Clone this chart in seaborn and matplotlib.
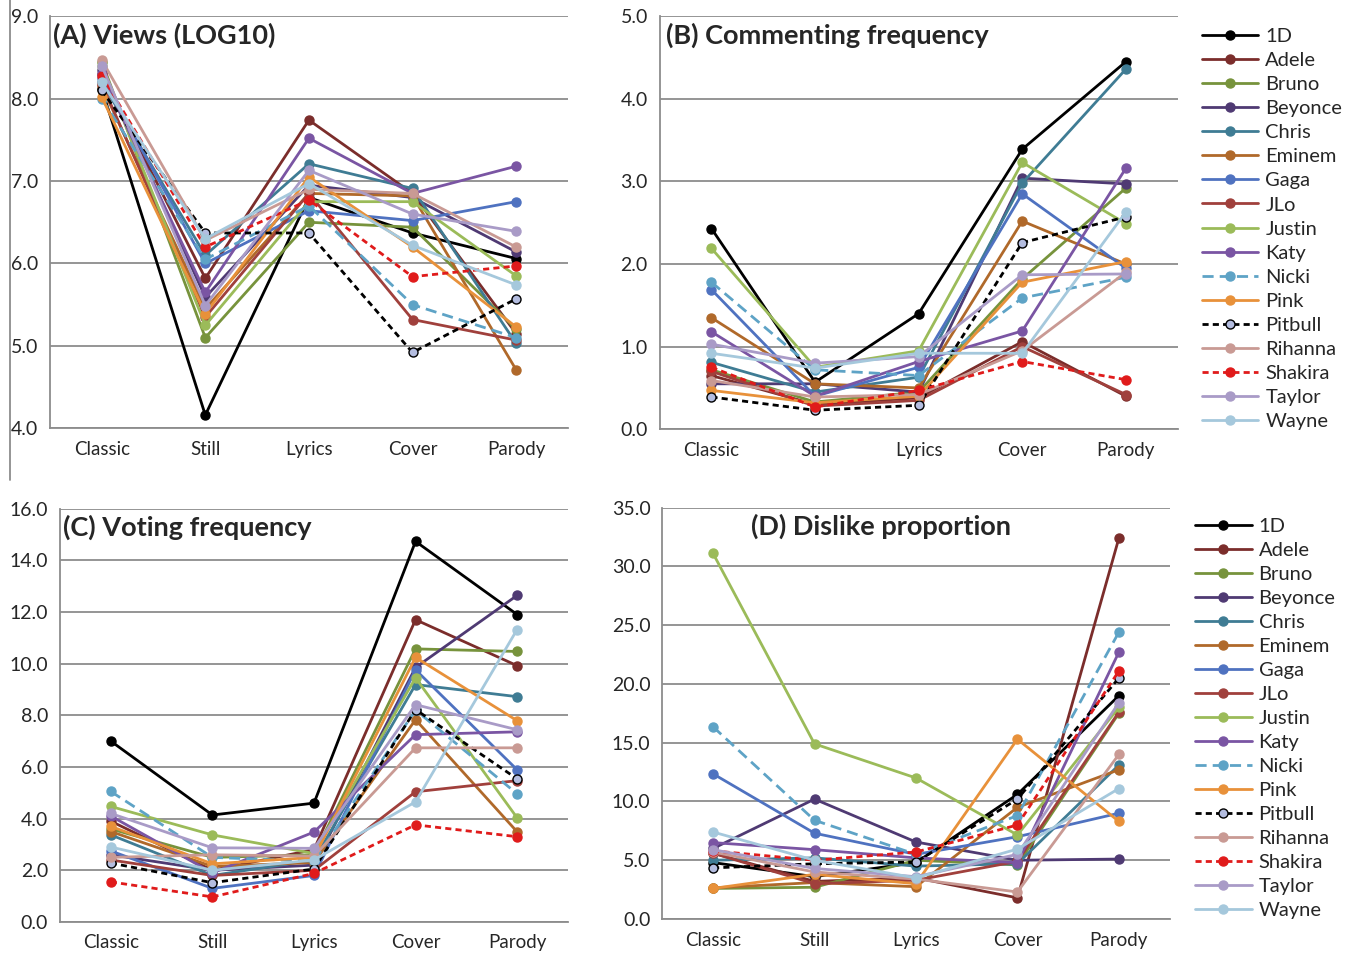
import numpy as np
import pandas as pd
import seaborn as sns
import matplotlib.pyplot as plt
from matplotlib.lines import Line2D

sns.set_style("white")
plt.rcParams['font.family'] = ['Lato', 'DejaVu Sans']

cats = ['Classic', 'Still', 'Lyrics', 'Cover', 'Parody']
artists = ['1D', 'Adele', 'Bruno', 'Beyonce', 'Chris', 'Eminem', 'Gaga', 'JLo',
           'Justin', 'Katy', 'Nicki', 'Pink', 'Pitbull', 'Rihanna', 'Shakira',
           'Taylor', 'Wayne']

# rows follow the artists list, columns follow cats
views = [
    [8.12, 4.16, 6.80, 6.37, 6.06],
    [8.30, 5.82, 7.74, 6.85, 5.15],
    [8.45, 5.10, 6.50, 6.44, 5.20],
    [8.35, 5.59, 6.95, 6.80, 6.14],
    [8.20, 6.10, 7.21, 6.91, 5.03],
    [8.15, 5.45, 6.85, 6.82, 4.71],
    [8.25, 6.00, 6.64, 6.52, 6.75],
    [8.18, 5.35, 6.85, 5.32, 5.07],
    [8.40, 5.25, 6.75, 6.75, 5.85],
    [8.30, 5.65, 7.52, 6.85, 7.18],
    [8.00, 6.05, 6.70, 5.50, 5.10],
    [8.02, 5.39, 7.05, 6.20, 5.23],
    [8.10, 6.37, 6.37, 4.92, 5.57],
    [8.47, 6.28, 6.90, 6.85, 6.20],
    [8.28, 6.20, 6.77, 5.84, 5.97],
    [8.40, 5.49, 7.13, 6.60, 6.39],
    [8.20, 6.30, 6.97, 6.22, 5.74],
]
comments = [
    [2.43, 0.57, 1.40, 3.39, 4.45],
    [0.65, 0.30, 0.38, 1.06, 0.40],
    [0.72, 0.33, 0.45, 1.82, 2.92],
    [0.55, 0.55, 0.45, 3.04, 2.97],
    [0.81, 0.45, 0.63, 2.98, 4.36],
    [1.35, 0.55, 0.50, 2.52, 2.00],
    [1.69, 0.40, 0.75, 2.85, 1.95],
    [0.70, 0.28, 0.35, 1.00, 0.42],
    [2.19, 0.75, 0.95, 3.23, 2.49],
    [1.18, 0.40, 0.82, 1.19, 3.16],
    [1.78, 0.72, 0.65, 1.59, 1.84],
    [0.47, 0.32, 0.40, 1.78, 2.03],
    [0.39, 0.23, 0.29, 2.26, 2.57],
    [0.59, 0.39, 0.42, 0.95, 1.90],
    [0.75, 0.27, 0.47, 0.82, 0.60],
    [1.03, 0.80, 0.88, 1.87, 1.88],
    [0.92, 0.74, 0.92, 0.92, 2.63],
]
votes = [
    [7.00, 4.14, 4.60, 14.73, 11.90],
    [3.90, 2.00, 2.80, 11.70, 9.92],
    [3.60, 2.50, 2.60, 10.57, 10.47],
    [2.60, 2.00, 2.20, 9.85, 12.64],
    [3.37, 1.80, 2.40, 9.19, 8.72],
    [3.50, 2.15, 2.30, 7.83, 3.49],
    [2.75, 1.30, 1.80, 9.76, 5.89],
    [2.40, 1.80, 2.00, 5.04, 5.47],
    [4.47, 3.37, 2.65, 9.45, 4.03],
    [4.10, 1.90, 3.48, 7.25, 7.36],
    [5.05, 2.50, 2.35, 8.20, 4.96],
    [3.70, 2.25, 2.50, 10.24, 7.79],
    [2.28, 1.52, 2.05, 8.22, 5.54],
    [2.50, 2.60, 2.55, 6.74, 6.74],
    [1.55, 0.97, 1.88, 3.76, 3.30],
    [4.20, 2.87, 2.85, 8.41, 7.44],
    [2.90, 2.00, 2.40, 4.65, 11.32],
]
dislikes = [
    [4.80, 3.60, 4.80, 10.60, 19.00],
    [5.60, 3.20, 3.50, 1.80, 32.40],
    [2.60, 2.70, 5.00, 4.60, 17.50],
    [6.00, 10.20, 6.55, 5.00, 5.10],
    [5.00, 5.20, 4.50, 4.70, 13.10],
    [2.65, 3.10, 2.75, 9.50, 12.70],
    [12.35, 7.30, 5.50, 7.00, 9.00],
    [5.60, 3.00, 3.30, 4.90, 17.60],
    [31.10, 14.90, 12.00, 7.15, 18.00],
    [6.50, 5.90, 5.20, 4.80, 22.70],
    [16.35, 8.40, 5.50, 8.80, 24.40],
    [2.60, 3.80, 3.00, 15.30, 8.30],
    [4.35, 4.70, 4.85, 10.20, 20.50],
    [5.70, 4.00, 3.40, 2.30, 14.00],
    [5.80, 5.00, 5.70, 8.00, 21.10],
    [5.90, 4.30, 3.60, 5.50, 18.40],
    [7.40, 5.00, 3.50, 5.95, 11.10],
]

colors = ['#000000', '#7b2d2b', '#77933c', '#4f3a73', '#3f7c94', '#b0692a',
          '#4f72c0', '#a0403c', '#9bbb59', '#7a55a3', '#5ea3c6', '#e8913a',
          '#000000', '#c99a94', '#e01b1b', '#a99bc7', '#a5c8dc']
dash_map = {'Nicki': (4, 2.2), 'Pitbull': (2.2, 1.5), 'Shakira': (2.2, 1.5)}
grey = '#8c8c8c'


def draw(ax, values, title, ymax, step, title_x, legend_anchor=None):
    df = pd.DataFrame(values, index=artists, columns=cats)
    df = df.reset_index().melt(id_vars='index', var_name='type', value_name='value')
    for name, col in zip(artists, colors):
        sub = df[df['index'] == name]
        kw = dict(color=col, lw=2.0, marker='o', markersize=6.5,
                  markerfacecolor=col, markeredgecolor=col, markeredgewidth=1)
        if name in dash_map:
            kw['dashes'] = dash_map[name]
        if name == 'Pitbull':
            kw['markerfacecolor'] = '#b4bde0'
            kw['markeredgecolor'] = '#000000'
        sns.lineplot(data=sub, x='type', y='value', ax=ax, sort=False,
                     label=name, legend=False, **kw)
    ax.set_xlim(-0.5, 4.5)
    ax.set_ylim(0 if ymax != 9 else 4, ymax)
    ax.set_yticks(np.arange(ax.get_ylim()[0], ymax + 0.01, step))
    ax.set_yticklabels([f'{v:.1f}' for v in ax.get_yticks()])
    ax.set_xticks(range(5))
    ax.set_xticklabels(cats)
    ax.set_xticks(np.arange(-0.5, 5, 1), minor=True)
    ax.tick_params(axis='x', which='major', length=0, pad=9, labelsize=13.5)
    ax.tick_params(axis='x', which='minor', length=6, width=1.3, color=grey,
                   direction='out')
    ax.tick_params(axis='y', length=0, pad=8.5, labelsize=14)
    ax.set_xlabel('')
    ax.set_ylabel('')
    ax.yaxis.grid(True, color=grey, lw=1.3)
    ax.set_axisbelow(True)
    for s in ['top', 'right']:
        ax.spines[s].set_visible(False)
    for s in ['left', 'bottom']:
        ax.spines[s].set_color(grey)
        ax.spines[s].set_linewidth(1.3)
    ax.text(title_x, 0.985, title, transform=ax.transAxes, fontsize=19.5,
            fontweight='bold', va='top', ha='left')
    if legend_anchor is not None:
        handles, labels = ax.get_legend_handles_labels()
        ax.legend(handles, labels, loc='upper left', bbox_to_anchor=legend_anchor,
                  bbox_transform=ax.figure.transFigure, frameon=False,
                  fontsize=14.5, handlelength=2.8, handletextpad=0.35,
                  labelspacing=0.345, borderaxespad=0)


fig = plt.figure(figsize=(13.49, 9.56), dpi=100)
axA = fig.add_axes([0.037, 0.552, 0.384, 0.431])
axB = fig.add_axes([0.489, 0.551, 0.384, 0.432])
axC = fig.add_axes([0.0445, 0.0356, 0.3765, 0.4324])
axD = fig.add_axes([0.491, 0.0387, 0.376, 0.4303])

draw(axA, views, '(A) Views (LOG10)', 9, 1.0, 0.005)
draw(axB, comments, '(B) Commenting frequency', 5, 1.0, 0.012,
     legend_anchor=(0.885, 0.979))
draw(axC, votes, '(C) Voting frequency', 16, 2.0, 0.005)
draw(axD, dislikes, '(D) Dislike proportion', 35, 5.0, 0.175,
     legend_anchor=(0.880, 0.467))

fig.add_artist(Line2D([10 / 1349, 10 / 1349], [1.0, 1 - 480 / 956],
                      transform=fig.transFigure, color=grey, lw=1.3))

plt.savefig('out.png', dpi=100)
